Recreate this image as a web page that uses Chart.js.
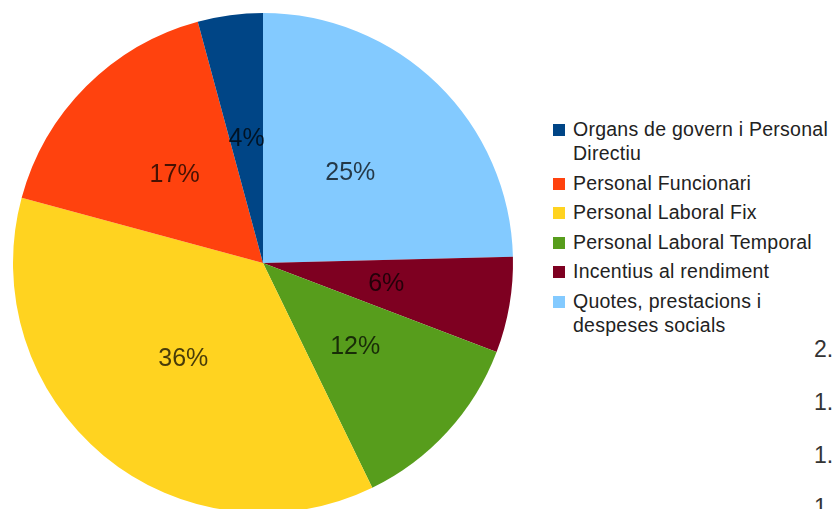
<!DOCTYPE html>
<html>
<head>
<meta charset="utf-8">
<script src="https://cdn.jsdelivr.net/npm/chart.js@4"></script>
<style>
  html, body { margin: 0; padding: 0; background: #fff; overflow: hidden; }
  body { width: 835px; height: 509px; position: relative; font-family: "Liberation Sans", Arial, sans-serif; }
  #pieBox { position: absolute; left: 0; top: 0; width: 526px; height: 526px; }
  #legend { position: absolute; left: 553px; top: 117px; }
  .item { position: relative; padding-left: 20px; font-size: 19.5px; letter-spacing: 0.25px; line-height: 24px; color: #222; white-space: pre; margin-bottom: 5.5px; }
  .item span { position: absolute; left: 0; top: 7px; width: 12px; height: 12px; }
  .cut { position: absolute; left: 814px; font-size: 23px; color: #333; line-height: 1; }
</style>
</head>
<body>
<div id="pieBox"><canvas id="PieChart"></canvas></div>
<div id="legend"></div>
<div class="cut" style="top:338px">2.</div>
<div class="cut" style="top:391px">1.</div>
<div class="cut" style="top:444px">1.</div>
<div class="cut" style="top:496px">1</div>
<script>
var labels = [
  "Organs de govern i Personal\nDirectiu",
  "Personal Funcionari",
  "Personal Laboral Fix",
  "Personal Laboral Temporal",
  "Incentius al rendiment",
  "Quotes, prestacions i\ndespeses socials"
];
var values = [4.2, 16.6, 36.4, 12.0, 6.2, 24.6];
var colors = ["#004586", "#ff420e", "#ffd320", "#579d1c", "#7e0021", "#83caff"];

// legend in original order
var legend = document.getElementById("legend");
labels.forEach(function (t, i) {
  var d = document.createElement("div");
  d.className = "item";
  d.textContent = t;
  var s = document.createElement("span");
  s.style.background = colors[i];
  d.appendChild(s);
  legend.appendChild(d);
});

// slices run counter-clockwise in the picture, so feed them reversed
var pieLabels = labels.slice().reverse();
var pieValues = values.slice().reverse();
var pieColors = colors.slice().reverse();

var pctLabels = {
  id: "pctLabels",
  afterDatasetsDraw: function (chart) {
    var ctx = chart.ctx;
    var meta = chart.getDatasetMeta(0);
    ctx.save();
    ctx.font = "25px 'Liberation Sans', Arial, sans-serif";
    ctx.fillStyle = "rgba(0,0,0,0.72)";
    ctx.textAlign = "center";
    ctx.textBaseline = "middle";
    meta.data.forEach(function (arc, i) {
      var p = arc.tooltipPosition();
      ctx.fillText(Math.round(pieValues[i]) + "%", p.x, p.y);
    });
    ctx.restore();
  }
};

new Chart("PieChart", {
  type: "pie",
  data: {
    labels: pieLabels,
    datasets: [{
      data: pieValues,
      backgroundColor: pieColors,
      borderWidth: 0,
      hoverOffset: 0,
      offset: 0
    }]
  },
  options: {
    responsive: true,
    maintainAspectRatio: false,
    animation: false,
    layout: { padding: 13 },
    plugins: {
      legend: { display: false },
      tooltip: { enabled: false }
    }
  },
  plugins: [pctLabels]
});
</script>
</body>
</html>
